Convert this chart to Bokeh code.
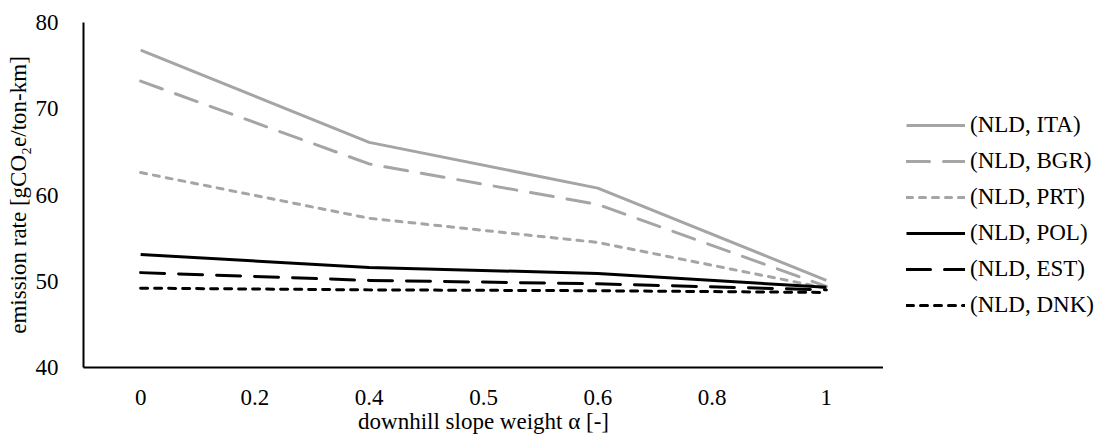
from bokeh.plotting import figure
from bokeh.layouts import row
from bokeh.models import FactorRange, Range1d, Legend, LegendItem, FixedTicker
from bokeh.embed import file_html
from bokeh.resources import INLINE

# x categories (evenly spaced category axis)
alpha_labels = ["0", "0.2", "0.4", "0.5", "0.6", "0.8", "1"]
# categories where the series have values
data_alpha = ["0", "0.4", "0.6", "1"]

series_names = ["(NLD, ITA)", "(NLD, BGR)", "(NLD, PRT)", "(NLD, POL)", "(NLD, EST)", "(NLD, DNK)"]
ita = [76.8, 66.1, 60.8, 50.1]
bgr = [73.2, 63.6, 58.9, 49.4]
prt = [62.6, 57.3, 54.5, 49.2]
pol = [53.1, 51.6, 50.9, 49.3]
est = [51.0, 50.1, 49.7, 49.0]
dnk = [49.2, 49.0, 48.9, 48.7]

y_ticks = [40, 50, 60, 70, 80]

FONT = "Liberation Serif"
FS = "23px"
GRAY = "#A5A5A5"
BLACK = "#000000"

p = figure(width=883, height=436,
           x_range=FactorRange(*alpha_labels, range_padding=0),
           y_range=Range1d(40, 80),
           output_backend="svg", toolbar_location=None,
           min_border_left=83, min_border_right=0,
           min_border_top=22, min_border_bottom=69)

p.outline_line_color = None
p.xgrid.grid_line_color = None
p.ygrid.grid_line_color = None
p.background_fill_color = "white"
p.border_fill_color = "white"

# axes
p.yaxis.ticker = FixedTicker(ticks=y_ticks)
for ax in (p.xaxis[0], p.yaxis[0]):
    ax.major_tick_line_color = None
    ax.minor_tick_line_color = None
    ax.axis_line_color = BLACK
    ax.axis_line_width = 2
    ax.major_label_text_font = FONT
    ax.major_label_text_font_size = FS
    ax.major_label_text_color = BLACK
    ax.axis_label_text_font = FONT
    ax.axis_label_text_font_size = FS
    ax.axis_label_text_font_style = "normal"
    ax.axis_label_text_color = BLACK

p.xaxis.axis_label = "downhill slope weight \u03b1 [-]"
p.yaxis.axis_label = "emission rate [gCO\u2082e/ton-km]"
p.yaxis.major_label_standoff = 19
p.yaxis.axis_label_standoff = 2
p.xaxis.major_label_standoff = 16
p.xaxis.axis_label_standoff = 1

styles = [
    (ita, GRAY, "solid"),
    (bgr, GRAY, "23 14"),
    (prt, GRAY, "6 7"),
    (pol, BLACK, "solid"),
    (est, BLACK, "24 14"),
    (dnk, BLACK, "7 7"),
]

# legend panel as a separate figure to the right of the chart
pl = figure(width=214, height=436, x_range=Range1d(0, 1), y_range=Range1d(0, 1),
            output_backend="svg", toolbar_location=None,
            x_axis_location=None, y_axis_location=None,
            min_border_left=0, min_border_right=0, min_border_top=22, min_border_bottom=69)
pl.grid.grid_line_color = None
pl.outline_line_color = None
pl.background_fill_color = "white"
pl.border_fill_color = "white"

items = []
for name, (vals, color, dash) in zip(series_names, styles):
    kw = dict(line_color=color, line_width=3, line_dash=dash,
              line_cap="round" if dash != "solid" else "butt", line_join="round")
    p.line(x=data_alpha, y=vals, **kw)
    # proxy renderer (outside the visible range) that only supplies the legend sample
    r = pl.line(x=[-2, -1], y=[-2, -1], **kw)
    items.append(LegendItem(label=name, renderers=[r]))

legend = Legend(items=items, location=(23, 49))
legend.label_text_font = FONT
legend.label_text_font_size = FS
legend.label_text_color = BLACK
legend.glyph_width = 59
legend.glyph_height = 20
legend.label_height = 20
legend.spacing = 10
legend.padding = 0
legend.margin = 0
legend.label_standoff = 5
legend.border_line_color = None
legend.background_fill_alpha = 0
pl.add_layout(legend)

layout = row(p, pl)
open("out.html", "w").write(file_html(layout, INLINE))
